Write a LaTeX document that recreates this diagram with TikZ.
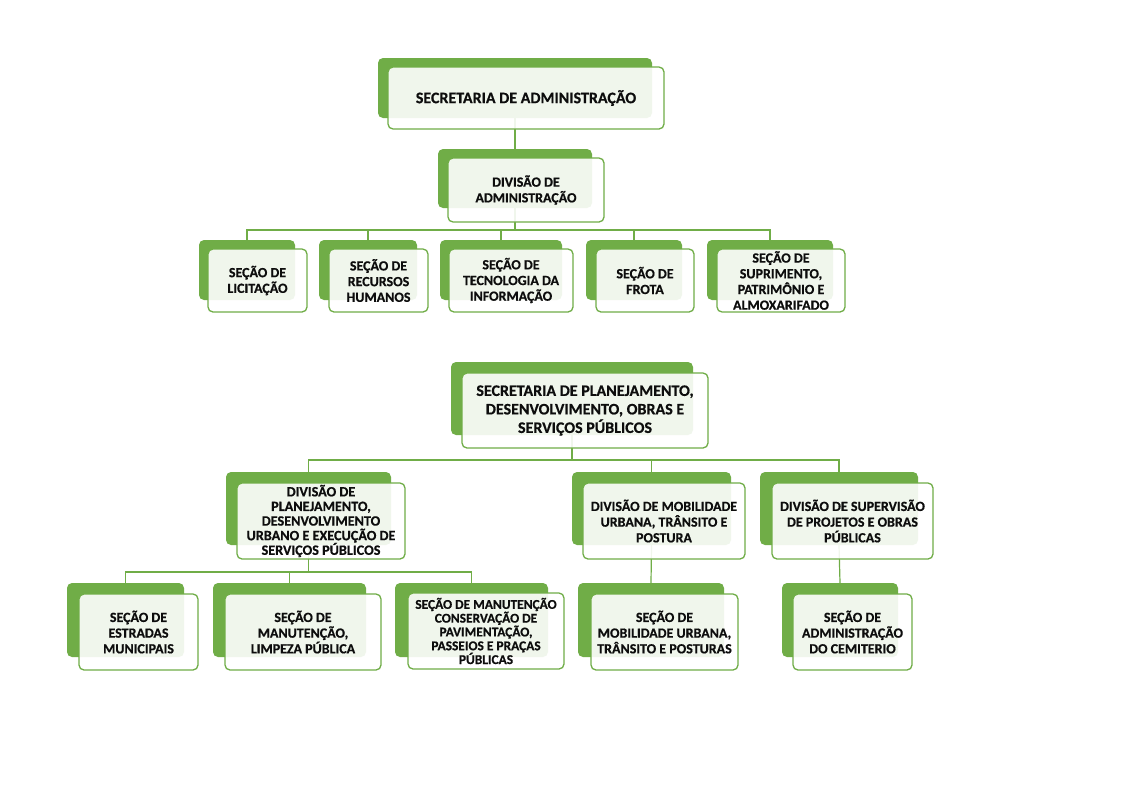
\documentclass[tikz,border=0pt]{standalone}
\usepackage{fontspec}
\setmainfont{Carlito}[Extension=.ttf, UprightFont=*-Regular, BoldFont=*-Bold, ItalicFont=*-Italic, BoldItalicFont=*-BoldItalic, BoldFeatures={FakeBold=0.6}]
\usetikzlibrary{backgrounds}
\definecolor{og}{HTML}{70AD47}
\newcommand\fbig{\bfseries\fontsize{16}{18.5}\selectfont}
\newcommand\fmid{\bfseries\fontsize{14}{15.7}\selectfont}
\newcommand\fdiv{\bfseries\fontsize{14.2}{14.6}\selectfont}
\newcommand\fsml{\bfseries\fontsize{13.4}{13.8}\selectfont}
\tikzset{
  backbox/.style={fill=og, draw=none, rounded corners=5pt, inner sep=0pt},
  frontbox/.style={draw=og, line width=1.3pt, fill=white, fill opacity=0.9, text opacity=1,
    rounded corners=5pt, inner sep=0pt, align=center, text=black!95},
  link/.style={draw=og, line width=1.2pt}
}
\begin{document}
\begin{tikzpicture}[x=1pt,y=-1pt]
\useasboundingbox (0,0) rectangle (1121,793);

% ---- Secretaria de Administracao
\node[backbox, minimum width=274, minimum height=60] (A1) at (515,88) {};
\node[frontbox, minimum width=276, minimum height=62, font=\fbig] (A1f) at (526,98) {SECRETARIA DE ADMINISTRAÇÃO};

\node[backbox, minimum width=154, minimum height=59] (A2) at (515,178.5) {};
\node[frontbox, minimum width=156, minimum height=64, font=\fmid] (A2f) at (526,190) {DIVISÃO DE\\ADMINISTRAÇÃO};

\node[backbox, minimum width=96, minimum height=60] (L1) at (247,270) {};
\node[frontbox, minimum width=99, minimum height=63, font=\fmid] (L1f) at (257.5,280.5) {SEÇÃO DE\\LICITAÇÃO};
\node[backbox, minimum width=98, minimum height=60] (L2) at (368,270) {};
\node[frontbox, minimum width=99, minimum height=63, font=\fmid] (L2f) at (378.5,280.5) {SEÇÃO DE\\RECURSOS\\HUMANOS};
\node[backbox, minimum width=122, minimum height=60] (L3) at (501,270) {};
\node[frontbox, minimum width=124, minimum height=63, font=\fmid] (L3f) at (511,280.5) {SEÇÃO DE\\TECNOLOGIA DA\\INFORMAÇÃO};
\node[backbox, minimum width=96, minimum height=60] (L4) at (634,270) {};
\node[frontbox, minimum width=98, minimum height=63, font=\fmid] (L4f) at (645,280.5) {SEÇÃO DE\\FROTA};
\node[backbox, minimum width=126, minimum height=60] (L5) at (770,270) {};
\node[frontbox, minimum width=128, minimum height=63, font=\fmid] (L5f) at (781,280.5) {SEÇÃO DE\\SUPRIMENTO,\\PATRIMÔNIO E\\ALMOXARIFADO};

% ---- Secretaria de Planejamento
\node[backbox, minimum width=242, minimum height=73] (P) at (572,398.5) {};
\node[frontbox, minimum width=246, minimum height=75, font=\fbig] (Pf) at (585,410.5) {SECRETARIA DE PLANEJAMENTO,\\DESENVOLVIMENTO, OBRAS E\\SERVIÇOS PÚBLICOS};

\node[backbox, minimum width=165, minimum height=73] (D1) at (308.5,508.5) {};
\node[frontbox, minimum width=168, minimum height=76, font=\fdiv] (D1f) at (321,521) {DIVISÃO DE\\PLANEJAMENTO,\\DESENVOLVIMENTO\\URBANO E EXECUÇÃO DE\\SERVIÇOS PÚBLICOS};
\node[backbox, minimum width=159, minimum height=73] (D2) at (651.5,508.5) {};
\node[frontbox, minimum width=162, minimum height=76, font=\fmid] (D2f) at (664,521) {DIVISÃO DE MOBILIDADE\\URBANA, TRÂNSITO E\\POSTURA};
\node[backbox, minimum width=158, minimum height=73] (D3) at (839,508.5) {};
\node[frontbox, minimum width=161, minimum height=76, font=\fmid] (D3f) at (852.5,521) {DIVISÃO DE SUPERVISÃO\\DE PROJETOS E OBRAS\\PÚBLICAS};

\node[backbox, minimum width=117, minimum height=74] (S1) at (125.5,620) {};
\node[frontbox, minimum width=119, minimum height=76, font=\fmid] (S1f) at (138.5,632) {SEÇÃO DE\\ESTRADAS\\MUNICIPAIS};
\node[backbox, minimum width=153, minimum height=74] (S2) at (289.5,620) {};
\node[frontbox, minimum width=156, minimum height=76, font=\fmid] (S2f) at (303,632) {SEÇÃO DE\\MANUTENÇÃO,\\LIMPEZA PÚBLICA};
\node[backbox, minimum width=153, minimum height=74] (S3) at (471.5,620) {};
\node[frontbox, minimum width=156, minimum height=76, font=\fsml] (S3f) at (486,631) {SEÇÃO DE MANUTENÇÃO\\CONSERVAÇÃO DE\\PAVIMENTAÇÃO,\\PASSEIOS E PRAÇAS\\PÚBLICAS};
\node[backbox, minimum width=146, minimum height=74] (S4) at (651,620) {};
\node[frontbox, minimum width=147, minimum height=76, font=\fmid] (S4f) at (664.5,632) {SEÇÃO DE\\MOBILIDADE URBANA,\\TRÂNSITO E POSTURAS};
\node[backbox, minimum width=116, minimum height=74] (S5) at (840,620) {};
\node[frontbox, minimum width=119, minimum height=76, font=\fmid] (S5f) at (852.5,632) {SEÇÃO DE\\ADMINISTRAÇÃO\\DO CEMITERIO};

% ---- connectors
\coordinate (busA) at (515,230);
\coordinate (busP) at (572,460);
\coordinate (busD) at (308.5,572);
\begin{scope}[on background layer]
  \fill[white] (0,0) rectangle (1121,793);
  \draw[link] (A1.south) -- (A2.north);
  \draw[link] (A2.south) -- (busA);
  \foreach \c in {L1,L2,L3,L4,L5} \draw[link] (\c.north) |- (busA);
  \draw[link] (P.south) -- (busP);
  \foreach \c in {D1,D2,D3} \draw[link] (\c.north) |- (busP);
  \draw[link] (D1.south) -- (busD);
  \foreach \c in {S1,S2,S3} \draw[link] (\c.north) |- (busD);
  \draw[link] (D2.south) -- (S4.north);
  \draw[link] (D3.south) -- (S5.north);
\end{scope}
\end{tikzpicture}
\end{document}
